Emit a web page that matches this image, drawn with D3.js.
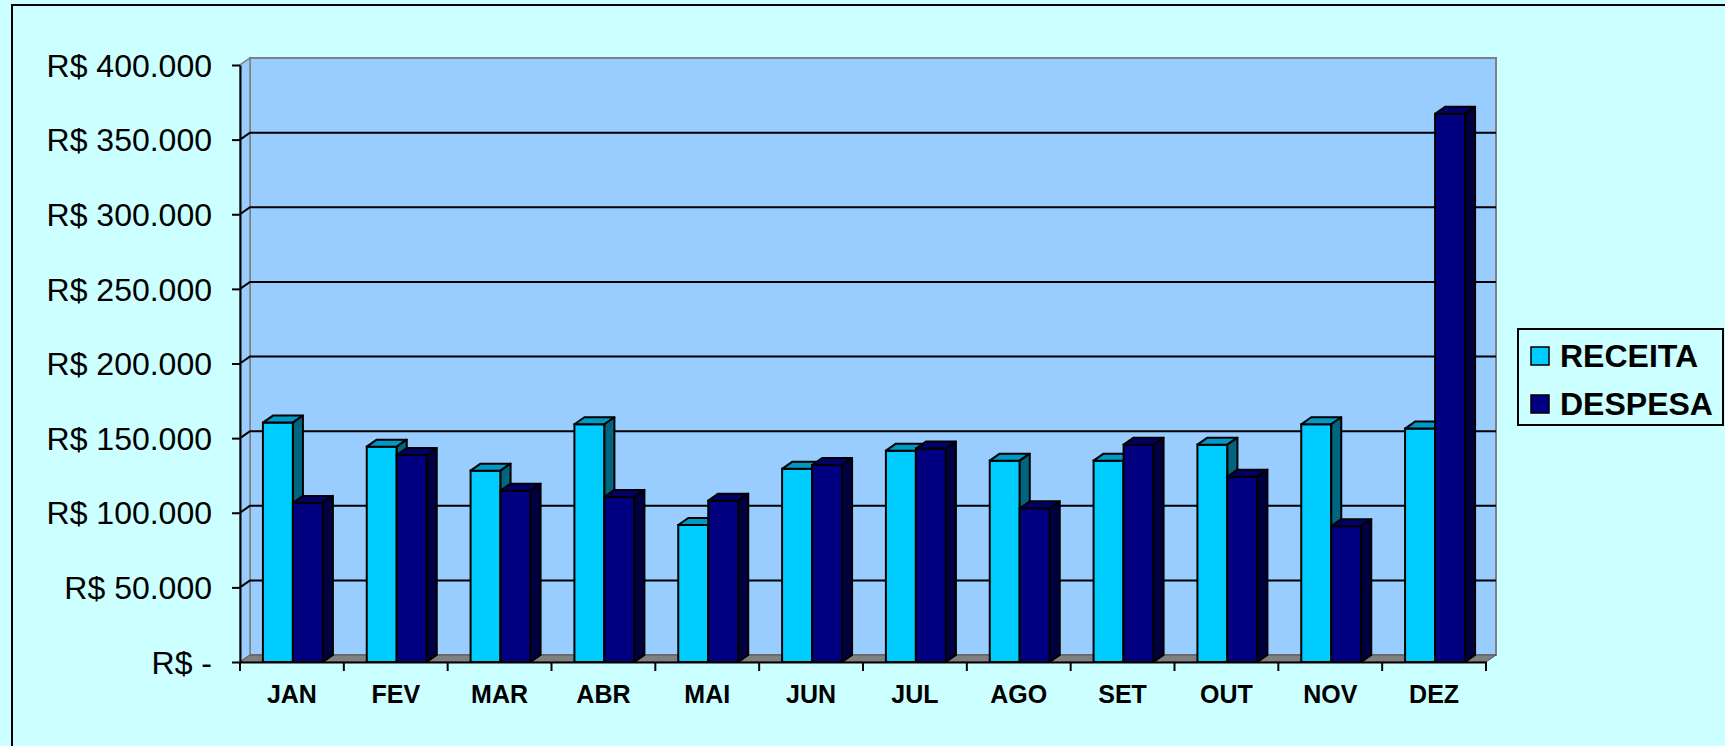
<!DOCTYPE html>
<html>
<head>
  <meta charset="UTF-8">
  <title>Receita x Despesa</title>
  <script src="https://d3js.org/d3.v7.min.js"></script>
  <style>
    html, body { margin: 0; padding: 0; background: #CCFFFF; overflow: hidden; }
    svg { display: block; font-family: "Liberation Sans", Arial, sans-serif; }
  </style>
</head>
<body>
<svg width="1725" height="746"></svg>
<script>

  // DATA

  var months = ["JAN", "FEV", "MAR", "ABR", "MAI", "JUN", "JUL", "AGO", "SET", "OUT", "NOV", "DEZ"];
  var seriesNames = ["RECEITA", "DESPESA"];
  var receita = [160400, 144300, 128200, 159300, 91800, 129400, 141600, 134900, 134900, 145600, 159300, 156400];
  var despesa = [106600, 138700, 114800, 110600, 108100, 132000, 143000, 103000, 145600, 124200, 91000, 367300];
  var yTicks = [0, 50000, 100000, 150000, 200000, 250000, 300000, 350000, 400000];
  var yTickLabels = ["R$ -", "R$ 50.000", "R$ 100.000", "R$ 150.000", "R$ 200.000",
                     "R$ 250.000", "R$ 300.000", "R$ 350.000", "R$ 400.000"];

  // SETUP

  var svg = d3.select("svg"),
    dx = 10, dy = 7,           // 3d depth
    barW = 30;

  var colors = {
    RECEITA: { front: "#00CCFF", top: "#0099C4", side: "#006680" },
    DESPESA: { front: "#000080", top: "#000066", side: "#000040" }
  };

  var x = d3.scaleBand().domain(months).range([240, 1486]),
      xs = d3.scaleBand().domain(seriesNames).range([0, barW * 2]),
      y = d3.scaleLinear().domain([0, 400000]).range([662, 65]);

  // outer frame
  svg.append("rect")
    .attr("x", 12).attr("y", 5).attr("width", 1740).attr("height", 760)
    .attr("fill", "#CCFFFF").attr("stroke", "#000").attr("stroke-width", 2);

  var x0 = x.range()[0], x1 = x.range()[1], yb = y(0), yt = y(400000);

  // back wall
  svg.append("rect")
    .attr("x", x0 + dx).attr("y", yt - dy)
    .attr("width", x1 - x0).attr("height", yb - yt)
    .attr("fill", "#99CCFF").attr("stroke", "#808080").attr("stroke-width", 2);

  // side wall
  svg.append("path")
    .attr("d", "M" + x0 + "," + yb + "L" + (x0 + dx) + "," + (yb - dy) +
               "L" + (x0 + dx) + "," + (yt - dy) + "L" + x0 + "," + yt + "Z")
    .attr("fill", "#99CCFF").attr("stroke", "#808080").attr("stroke-width", 1.5);

  // floor
  svg.append("path")
    .attr("d", "M" + x0 + "," + yb + "L" + x1 + "," + yb +
               "L" + (x1 + dx) + "," + (yb - dy) + "L" + (x0 + dx) + "," + (yb - dy) + "Z")
    .attr("fill", "#808080").attr("stroke", "#555").attr("stroke-width", 1);

  // gridlines
  var grid = yTicks.filter(function (d) { return d > 0 && d < 400000; });
  svg.selectAll(".grid").data(grid).enter().append("path")
    .attr("class", "grid")
    .attr("d", function (d) {
      return "M" + x0 + "," + y(d) + "L" + (x0 + dx) + "," + (y(d) - dy) + "L" + (x1 + dx) + "," + (y(d) - dy);
    })
    .attr("fill", "none").attr("stroke", "#000").attr("stroke-width", 2);

  // y axis
  var yAxis = svg.append("g")
    .attr("transform", "translate(" + x0 + ",0)")
    .call(d3.axisLeft(y).tickValues(yTicks).tickSize(8).tickSizeOuter(0)
      .tickFormat(function (d, i) { return yTickLabels[i]; }));
  yAxis.select(".domain").attr("stroke", "#000").attr("stroke-width", 2);
  yAxis.selectAll(".tick line").attr("stroke", "#000").attr("stroke-width", 2);
  yAxis.selectAll(".tick text")
    .attr("x", -28).attr("dy", "0.35em")
    .attr("font-size", 32).attr("font-family", "'Liberation Sans', Arial, sans-serif")
    .attr("fill", "#000");

  // bars
  function bar(g, xl, val, c) {
    var yy = y(val), xr = xl + barW;
    g.append("rect")
      .attr("x", xl).attr("y", yy).attr("width", barW).attr("height", yb - yy)
      .attr("fill", c.front).attr("stroke", "#000").attr("stroke-width", 2);
    g.append("path")
      .attr("d", "M" + xl + "," + yy + "L" + (xl + dx) + "," + (yy - dy) + "L" + (xr + dx) + "," + (yy - dy) +
                 "L" + xr + "," + yy + "Z")
      .attr("fill", c.top).attr("stroke", "#000").attr("stroke-width", 2).attr("stroke-linejoin", "round");
    g.append("path")
      .attr("d", "M" + xr + "," + yy + "L" + (xr + dx) + "," + (yy - dy) + "L" + (xr + dx) + "," + (yb - dy) +
                 "L" + xr + "," + yb + "Z")
      .attr("fill", c.side).attr("stroke", "#000").attr("stroke-width", 2).attr("stroke-linejoin", "round");
  }

  var bars = svg.append("g");
  months.forEach(function (m, i) {
    var gx = x(m) + (x.bandwidth() - barW * 2) / 2 + 1;
    var g = bars.append("g");
    bar(g, gx + xs("RECEITA"), receita[i], colors.RECEITA);
    bar(g, gx + xs("DESPESA"), despesa[i], colors.DESPESA);
  });

  // x axis
  var xAxis = svg.append("g")
    .attr("transform", "translate(0," + yb + ")")
    .call(d3.axisBottom(x).tickSize(0).tickSizeOuter(0));
  xAxis.select(".domain").attr("stroke", "#000").attr("stroke-width", 2);
  xAxis.selectAll(".tick text")
    .attr("y", 32).attr("dy", "0.35em")
    .attr("font-size", 25).attr("font-weight", "bold")
    .attr("font-family", "'Liberation Sans', Arial, sans-serif").attr("fill", "#000");
  // boundary ticks between categories
  xAxis.selectAll(".sep").data(months.concat(["end"])).enter().append("line")
    .attr("class", "sep")
    .attr("x1", function (d, i) { return x0 + i * x.step(); })
    .attr("x2", function (d, i) { return x0 + i * x.step(); })
    .attr("y1", 0).attr("y2", 9)
    .attr("stroke", "#000").attr("stroke-width", 2);

  // legend
  var lg = svg.append("g").attr("transform", "translate(1518,329)");
  lg.append("rect").attr("width", 205).attr("height", 96)
    .attr("fill", "#CCFFFF").attr("stroke", "#000").attr("stroke-width", 2);
  seriesNames.forEach(function (s, i) {
    lg.append("rect").attr("x", 13).attr("y", 18 + i * 48).attr("width", 18).attr("height", 18)
      .attr("fill", colors[s].front).attr("stroke", "#000").attr("stroke-width", 1.5);
    lg.append("text").attr("x", 42).attr("y", 38 + i * 48)
      .attr("font-size", 32).attr("font-weight", "bold").attr("fill", "#000")
      .text(s);
  });

</script>
</body>
</html>
